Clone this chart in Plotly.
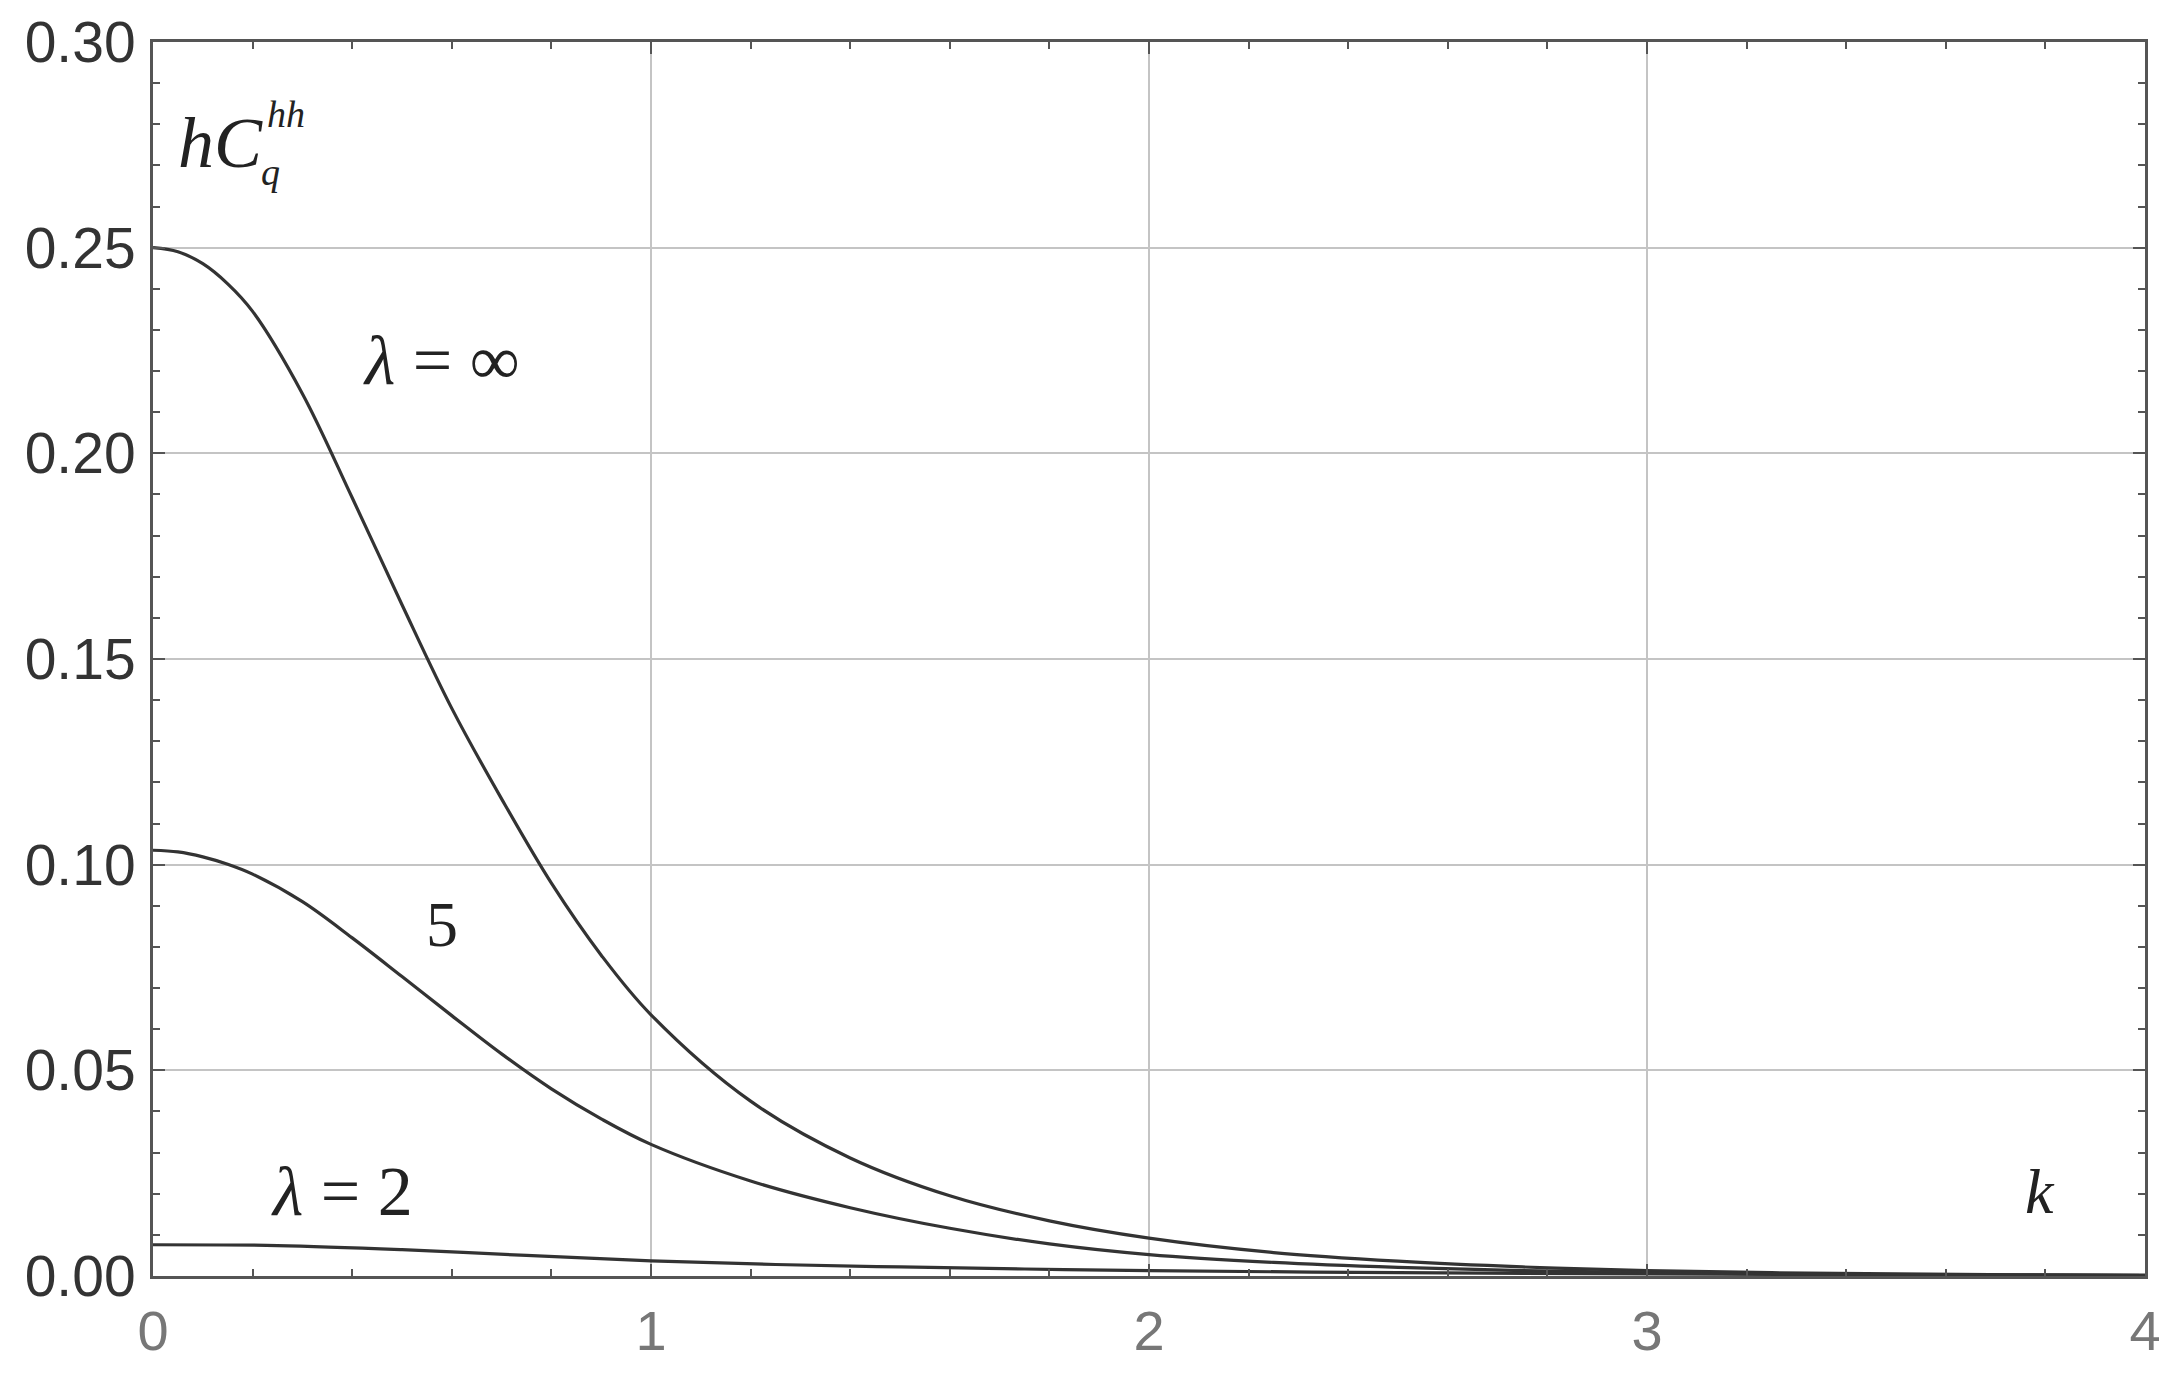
import plotly.graph_objects as go

# k values and curve values
k_inf = [0, 0.05, 0.1, 0.15, 0.2, 0.3, 0.4, 0.5, 0.6, 0.7, 0.8, 0.9, 1.0, 1.2, 1.4, 1.6, 1.8, 2.0,
         2.25, 2.5, 2.75, 3.0, 3.25, 3.5, 3.75, 4.0]
c_inf = [0.2500, 0.2490, 0.2461, 0.2412, 0.2345, 0.2145, 0.1892, 0.1632, 0.1380, 0.1160, 0.0955, 0.0780, 0.0635,
         0.0425, 0.0287, 0.0195, 0.0134, 0.0092, 0.0057, 0.0036, 0.0022, 0.0013, 0.0008, 0.0005, 0.0003, 0.0002]

k_5 = [0, 0.05, 0.1, 0.15, 0.2, 0.3, 0.4, 0.5, 0.6, 0.7, 0.8, 0.9, 1.0, 1.2, 1.4, 1.6, 1.8, 2.0,
       2.25, 2.5, 2.75, 3.0, 3.25, 3.5, 3.75, 4.0]
c_5 = [0.1035, 0.1031, 0.1019, 0.1001, 0.0977, 0.0910, 0.0822, 0.0728, 0.0633, 0.0540, 0.0455, 0.0382, 0.0320,
       0.0231, 0.0166, 0.0116, 0.0078, 0.0052, 0.0033, 0.0021, 0.0013, 0.0008, 0.0005, 0.0003, 0.0002, 0.0001]

k_2 = [0, 0.25, 0.5, 0.75, 1.0, 1.25, 1.5, 1.75, 2.0, 2.5, 3.0, 3.5, 4.0]
c_2 = [0.0076, 0.0074, 0.0064, 0.0050, 0.0037, 0.0028, 0.0022, 0.0017, 0.0013, 0.0008, 0.0005, 0.0003, 0.0001]

x_ticks = [0, 1, 2, 3, 4]
y_ticks = [0.00, 0.05, 0.10, 0.15, 0.20, 0.25, 0.30]
y_tick_text = ["0.00", "0.05", "0.10", "0.15", "0.20", "0.25", "0.30"]

line_col = "#333333"
fig = go.Figure()
for kx, cy in [(k_inf, c_inf), (k_5, c_5), (k_2, c_2)]:
    fig.add_trace(go.Scatter(x=kx, y=cy, mode="lines",
                             line=dict(color=line_col, width=3.2, shape="spline", smoothing=1.0),
                             showlegend=False, hoverinfo="skip"))

serif = "Liberation Serif"
ann = [
    dict(x=0.135, y=0.2755, text="<i>hC</i>", size=72),
    dict(x=0.268, y=0.2825, text="<i>hh</i>", size=38),
    dict(x=0.235, y=0.2685, text="<i>q</i>", size=38),
    dict(x=0.58, y=0.2225, text="<i>λ</i> = ∞", size=70),
    dict(x=0.58, y=0.0855, text="5", size=64),
    dict(x=0.38, y=0.0205, text="<i>λ</i> = 2", size=70),
    dict(x=3.79, y=0.0205, text="<i>k</i>", size=64),
]
for a in ann:
    fig.add_annotation(x=a["x"], y=a["y"], xref="x", yref="y", text=a["text"],
                       showarrow=False, font=dict(family=serif, size=a["size"], color="#222222"))

axis_common = dict(showline=True, linecolor="#555555", linewidth=3, mirror="ticks",
                   ticks="inside", tickcolor="#555555", tickwidth=2, ticklen=12,
                   showgrid=True, gridcolor="#c4c4c4", gridwidth=2, zeroline=False,
                   automargin=False)

fig.update_xaxes(range=[0, 4], tickvals=x_ticks, ticktext=[str(v) for v in x_ticks],
                 tickfont=dict(family="Liberation Sans", size=56, color="#777777"),
                 minor=dict(dtick=0.2, ticks="inside", ticklen=7, tickcolor="#555555", tickwidth=2, showgrid=False),
                 ticklabelstandoff=4,
                 **axis_common)
fig.update_yaxes(range=[0, 0.30], tickvals=y_ticks, ticktext=y_tick_text,
                 tickfont=dict(family="Liberation Sans", size=57, color="#333333"),
                 minor=dict(dtick=0.01, ticks="inside", ticklen=7, tickcolor="#555555", tickwidth=2, showgrid=False),
                 ticklabelstandoff=3,
                 **axis_common)

# page body has an 8px default margin, so the figure is sized to fit the window
fig.update_layout(width=2164, height=1357, paper_bgcolor="white", plot_bgcolor="white",
                  margin=dict(l=145, r=27, t=34, b=89))

fig.write_html("out.html")
